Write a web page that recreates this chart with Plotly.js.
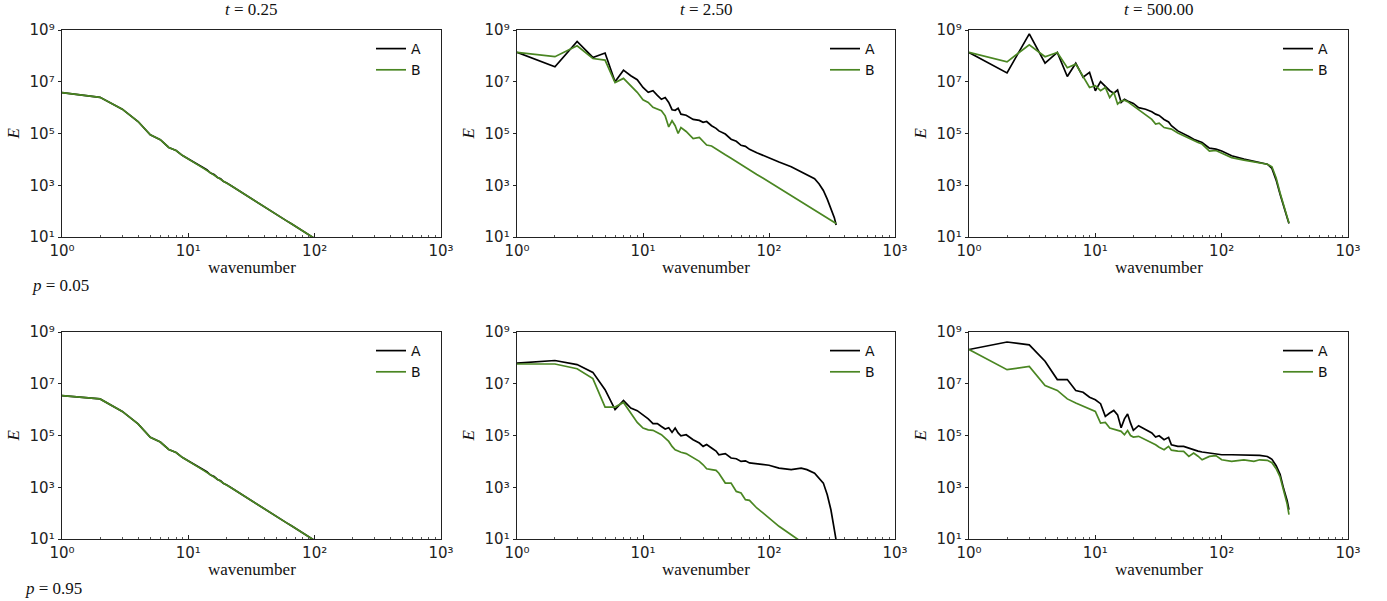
<!DOCTYPE html>
<html><head><meta charset="utf-8">
<script src="https://cdn.plot.ly/plotly-3.0.1.min.js"></script>
<style>html,body{margin:0;padding:0;background:#fff}#chart{width:1387px;height:601px}</style>
</head><body><div id="chart"></div>
<script>
// ---------- data ----------
const wavenumber = [1,2,3,4,5,6,7,8,9,10,11,12,13,14,15,16,17,18,19,20,22,25,28,30,32,35,38,40,45,50,55,60,65,70,80,90,100,120,150,180,200,230,250,270,290,310,330,341];

const timeLabels = ["0.25", "2.50", "500.00"];
const pLabels = ["0.05", "0.95"];
const seriesNames = ["A", "B"];

const xTickVals = [1, 10, 100, 1000];
const xTickText = ["10\u2070", "10\u00B9", "10\u00B2", "10\u00B3"];
const xMinorVals = [2,3,4,5,6,7,8,9,20,30,40,50,60,70,80,90,200,300,400,500,600,700,800,900];
const yTickVals = [1e1, 1e3, 1e5, 1e7, 1e9];
const yTickText = ["10\u00B9", "10\u00B3", "10\u2075", "10\u2077", "10\u2079"];

// p = 0.05
const p05_t025_A = [3.8e6,2.5e6,8.7e5,2.9e5,8.9e4,5.8e4,2.9e4,2.2e4,1.4e4,1.05e4,
  7.9e3,6.3e3,4.9e3,4.0e3,2.95e3,2.6e3,2.0e3,1.78e3,1.38e3,1.26e3,
  9.3e2,6.2e2,4.4e2,3.5e2,2.9e2,2.2e2,1.7e2,1.48e2,
  1.02e2,74,55,42,33,26, 17.4,12,8.7, 5.0,2.5,1.4,1.0,
  0.68,0.51,0.41,0.33,0.27,0.22,0.20];
const p05_t025_B = [3.8e6,2.5e6,8.7e5,2.9e5,8.9e4,5.8e4,2.9e4,2.2e4,1.4e4,1.05e4,
  7.8e3,6.0e3,4.7e3,3.7e3,3.0e3,2.45e3,2.04e3,1.7e3,1.45e3,1.23e3,
  9.3e2,6.2e2,4.4e2,3.5e2,2.9e2,2.2e2,1.7e2,1.48e2,
  1.02e2,74,55,42,33,26, 17.4,12,8.7, 5.0,2.5,1.4,1.0,
  0.68,0.51,0.41,0.33,0.27,0.22,0.20];
const p05_t250_A = [1.36e8,3.8e7,3.6e8,8.7e7,1.29e8,1.0e7,2.8e7,1.7e7,1.2e7,6.0e6,
  3.9e6,4.5e6,3.0e6,2.1e6,2.45e6,1.58e6,8.3e5,7.9e5,9.5e5,5.6e5,
  5.1e5,3.5e5,3.2e5,2.7e5,2.9e5,2.0e5,1.58e5,1.26e5,
  9.5e4,6.0e4,5.0e4,3.5e4,3.2e4,2.45e4, 1.8e4,1.4e4,1.17e4,
  7.9e3,5.2e3,3.2e3,2.5e3, 1.78e3,1.12e3,6.3e2,2.9e2,1.2e2,56,29];
const p05_t250_B = [1.36e8,9.3e7,2.45e8,7.9e7,6.9e7,9.3e6,1.35e7,7.1e6,3.9e6,2.0e6,
  1.58e6,1.02e6,8.7e5,7.6e5,4.8e5,1.8e5,3.1e5,2.0e5,1.0e5,1.7e5,
  1.2e5,6.3e4,7.1e4,5.2e4,3.6e4,3.3e4,2.5e4,2.1e4,
  1.5e4,1.1e4,8.1e3,6.3e3,4.9e3,4.0e3, 2.6e3,1.86e3,1.35e3,
  7.8e2,4.0e2,2.3e2,1.66e2, 1.1e2,85,68,54,44,36,33];
const p05_t500_A = [1.36e8,2.2e7,7.1e8,5.2e7,1.36e8,1.6e7,5.2e7,1.5e7,2.3e7,4.5e6,
  1.02e7,6.5e6,4.5e6,3.6e6,4.8e6,1.58e6,2.1e6,1.8e6,1.58e6,1.45e6,
  1.0e6,8.7e5,6.9e5,5.6e5,5.0e5,3.5e5,2.8e5,2.0e5,
  1.26e5,9.3e4,7.6e4,6.0e4,5.0e4,4.5e4, 2.7e4,2.5e4,2.1e4,
  1.38e4,1.02e4,8.5e3,7.6e3, 6.5e3,4.5e3,1.58e3,4.5e2,1.38e2,56,33];
const p05_t500_B = [1.36e8,5.9e7,2.7e8,9.3e7,1.36e8,3.5e7,4.8e7,1.5e7,6.0e6,7.1e6,
  4.5e6,6.0e6,2.45e6,3.9e6,1.38e6,1.8e6,1.95e6,1.7e6,1.41e6,1.17e6,
  8.7e5,5.6e5,3.5e5,2.3e5,2.5e5,1.7e5,1.58e5,1.48e5,
  1.05e5,8.1e4,6.6e4,5.2e4,4.5e4,3.9e4, 2.1e4,2.2e4,1.7e4,
  1.17e4,9.3e3,7.9e3,7.1e3, 6.5e3,5.2e3,1.9e3,5.0e2,1.5e2,60,35];

// p = 0.95
const p95_t025_A = [3.5e6,2.6e6,8.5e5,2.8e5,8.5e4,5.6e4,2.9e4,2.2e4,1.4e4,1.05e4,
  7.9e3,6.3e3,4.9e3,4.0e3,2.95e3,2.6e3,2.0e3,1.78e3,1.38e3,1.26e3,
  9.3e2,6.2e2,4.4e2,3.5e2,2.9e2,2.2e2,1.7e2,1.48e2,
  1.02e2,74,55,42,33,26, 17.4,12,8.7, 5.0,2.5,1.4,1.0,
  0.68,0.51,0.41,0.33,0.27,0.22,0.20];
const p95_t025_B = [3.5e6,2.6e6,8.5e5,2.8e5,8.5e4,5.6e4,2.9e4,2.2e4,1.4e4,1.05e4,
  7.8e3,6.0e3,4.7e3,3.7e3,3.0e3,2.45e3,2.04e3,1.7e3,1.45e3,1.23e3,
  9.3e2,6.2e2,4.4e2,3.5e2,2.9e2,2.2e2,1.7e2,1.48e2,
  1.02e2,74,55,42,33,26, 17.4,12,8.7, 5.0,2.5,1.4,1.0,
  0.68,0.51,0.41,0.33,0.27,0.22,0.20];
const p95_t250_A = [6.3e7,7.9e7,5.5e7,2.75e7,5.9e6,1.0e6,2.24e6,1.15e6,9.1e5,6.3e5,
  4.4e5,2.9e5,2.9e5,2.24e5,1.78e5,2.0e5,1.32e5,1.95e5,1.26e5,9.8e4,
  1.07e5,6.9e4,5.1e4,3.8e4,4.5e4,3.3e4,2.5e4,1.8e4,
  2.0e4,1.35e4,1.26e4,1.0e4,1.05e4,8.7e3, 7.9e3,7.6e3,7.1e3,
  5.5e3,4.8e3,5.5e3,4.8e3, 3.5e3,2.3e3,1.45e3,5.1e2,1.35e2,23,8.9];
const p95_t250_B = [5.8e7,5.8e7,3.8e7,1.58e7,1.26e6,1.26e6,1.9e6,7.4e5,3.2e5,1.95e5,
  1.66e5,1.58e5,1.32e5,1.07e5,7.9e4,5.9e4,3.8e4,2.8e4,2.5e4,2.24e4,
  2.0e4,1.35e4,1.0e4,7.4e3,5.2e3,4.8e3,4.5e3,3.5e3,
  1.45e3,1.45e3,6.9e2,6.0e2,3.3e2,3.1e2, 1.58e2,1.0e2,65,
  31,14.5,8.3,5.6, 3.5,2.6,2.0,1.5,1.2,0.95,0.85];
const p95_t500_A = [2.1e8,4.1e8,3.2e8,7.4e7,1.45e7,1.45e7,5.5e6,4.7e6,3.0e6,2.4e6,
  1.7e6,5.5e5,7.4e5,9.3e5,6.3e5,2.0e5,4.4e5,6.8e5,3.0e5,1.58e5,
  2.4e5,1.66e5,1.26e5,8.7e4,9.8e4,6.9e4,8.5e4,4.4e4,
  3.8e4,3.8e4,3.2e4,2.7e4,2.5e4,2.3e4, 2.1e4,1.9e4,1.8e4,
  1.8e4,1.8e4,1.78e4,1.7e4, 1.55e4,1.2e4,6.8e3,3.2e3,8.5e2,3.0e2,1.35e2];
const p95_t500_B = [2.1e8,3.5e7,4.7e7,8.5e6,5.5e6,2.6e6,1.8e6,1.35e6,1.1e6,8.5e5,
  3.0e5,3.2e5,1.95e5,1.78e5,1.66e5,1.45e5,1.07e5,1.55e5,1.0e5,8.7e4,
  9.3e4,6.9e4,5.2e4,4.4e4,3.5e4,2.8e4,3.8e4,2.7e4,
  2.5e4,2.45e4,1.55e4,2.1e4,1.58e4,1.15e4, 1.55e4,1.66e4,1.15e4,
  1.0e4,1.15e4,1.0e4,1.15e4, 1.1e4,8.9e3,5.2e3,2.5e3,7.1e2,2.24e2,87];

const panelSeries = [
  [p05_t025_A, p05_t025_B], [p05_t250_A, p05_t250_B], [p05_t500_A, p05_t500_B],
  [p95_t025_A, p95_t025_B], [p95_t250_A, p95_t250_B], [p95_t500_A, p95_t500_B]
];

// ---------- layout geometry (pixels) ----------
const W = 1387, H = 601;
const colPx = [[62, 441], [517, 895], [969, 1348]];
const rowPx = [[30, 237], [332, 539]];
const colors = ["#000000", "#4a8622"];
const serif = "Liberation Serif, Times New Roman, serif";
const sans = "DejaVu Sans, sans-serif";

const data = [];
const layout = {
  width: W, height: H,
  margin: {l: 0, r: 0, t: 0, b: 0},
  paper_bgcolor: "#fff", plot_bgcolor: "#fff",
  showlegend: true,
  annotations: []
};

for (let i = 0; i < 6; i++) {
  const r = Math.floor(i / 3), c = i % 3;
  const sfx = i === 0 ? "" : String(i + 1);
  const [x0, x1] = colPx[c], [y0, y1] = rowPx[r];
  const legName = "legend" + sfx;
  seriesNames.forEach((nm, j) => {
    data.push({
      type: "scatter", mode: "lines",
      x: wavenumber, y: panelSeries[i][j],
      name: nm, xaxis: "x" + sfx, yaxis: "y" + sfx,
      legend: legName,
      line: {color: colors[j], width: 1.7}
    });
  });
  layout["xaxis" + sfx] = {
    type: "log", range: [0, 3], domain: [x0 / W, x1 / W], anchor: "y" + sfx,
    tickmode: "array", tickvals: xTickVals, ticktext: xTickText,
    ticks: "inside", ticklen: 4, tickwidth: 1, tickcolor: "#222",
    minor: {tickmode: "array", tickvals: xMinorVals, ticks: "inside", ticklen: 2, tickcolor: "#555", showgrid: false},
    showline: true, mirror: true, linecolor: "#222", linewidth: 1.3,
    showgrid: false, zeroline: false,
    tickfont: {family: sans, size: 15, color: "#222"}
  };
  layout["yaxis" + sfx] = {
    type: "log", range: [1, 9], domain: [1 - y1 / H, 1 - y0 / H], anchor: "x" + sfx,
    tickmode: "array", tickvals: yTickVals, ticktext: yTickText,
    ticks: "outside", ticklen: 3, tickwidth: 1, tickcolor: "#222",
    showline: true, mirror: true, linecolor: "#222", linewidth: 1.3,
    showgrid: false, zeroline: false,
    tickfont: {family: sans, size: 15, color: "#222"}
  };
  layout[legName] = {
    x: (x1 - 70) / W, xanchor: "left", y: 1 - (y0 + 3) / H, yanchor: "top",
    bgcolor: "rgba(0,0,0,0)", borderwidth: 0,
    font: {family: sans, size: 14, color: "#111"},
    itemwidth: 30, tracegroupgap: 0
  };
  const xc = (x0 + x1) / 2 / W;
  // x-axis label
  layout.annotations.push({
    text: "wavenumber", xref: "paper", yref: "paper", x: xc, y: 1 - (y1 + 30) / H,
    xanchor: "center", yanchor: "middle", showarrow: false,
    font: {family: serif, size: 17, color: "#111"}
  });
  // y-axis label
  layout.annotations.push({
    text: "<i>E</i>", xref: "paper", yref: "paper", x: (x0 - 49) / W, y: 1 - (y0 + y1) / 2 / H,
    xanchor: "center", yanchor: "middle", showarrow: false, textangle: -90,
    font: {family: serif, size: 17, color: "#111"}
  });
  if (r === 0) {
    layout.annotations.push({
      text: "<i>t</i> = " + timeLabels[c], xref: "paper", yref: "paper", x: xc, y: 1 - 10 / H,
      xanchor: "center", yanchor: "middle", showarrow: false,
      font: {family: serif, size: 17, color: "#111"}
    });
  }
}
// row labels
layout.annotations.push({
  text: "<i>p</i> = " + pLabels[0], xref: "paper", yref: "paper", x: 30 / W, y: 1 - 285 / H,
  xanchor: "left", yanchor: "middle", showarrow: false,
  font: {family: serif, size: 17, color: "#111"}
});
layout.annotations.push({
  text: "<i>p</i> = " + pLabels[1], xref: "paper", yref: "paper", x: 23 / W, y: 1 - 588 / H,
  xanchor: "left", yanchor: "middle", showarrow: false,
  font: {family: serif, size: 17, color: "#111"}
});

Plotly.newPlot("chart", data, layout, {staticPlot: true, displayModeBar: false});
</script>
</body></html>
